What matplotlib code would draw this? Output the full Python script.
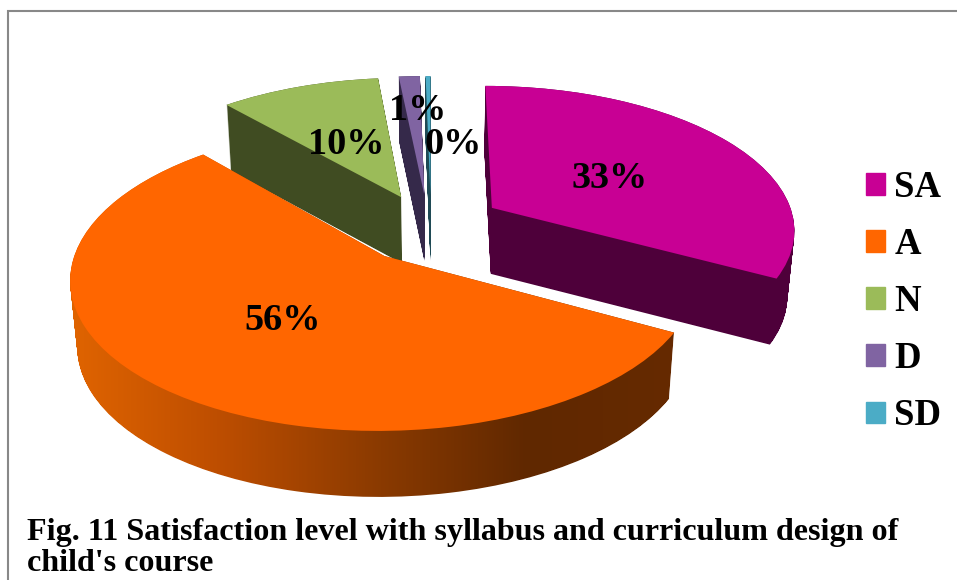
import numpy as np
import matplotlib
matplotlib.use("Agg")
import matplotlib.pyplot as plt
from matplotlib import transforms as mtransforms
from matplotlib.colors import LinearSegmentedColormap
from matplotlib.patches import Patch, PathPatch
from matplotlib.path import Path

categories = ["SA", "A", "N", "D", "SD"]
shares = [32.9, 55.6, 9.9, 1.3, 0.3]
top_colors = ["#C80094", "#FF6600", "#9BBB59", "#8064A2", "#4BACC6"]
side_colors = ["#4E003A", "#662A00", "#404C22", "#35294A", "#1F4A55"]
label_spots = [(610, 179), (283, 320), (346, 144), (418, 111), (453, 145)]
title = "Fig. 11 Satisfaction level with syllabus and curriculum design of\nchild's course"

# view of the tilted pie, in output pixels
CX, CY = 428, 225
SCALE_X, SCALE_Y, TILT = 303, 143, 0.14
DEPTH = 66
# small per-slice shifts on top of the explode
nudges = {"SA": (10, -2), "A": (-3, 7), "N": (-2, -1), "D": (0, -1), "SD": (3, -1)}


class TiltView(mtransforms.Transform):
    input_dims = 2
    output_dims = 2

    def __init__(self, layer=0.0, nudge=(0, 0)):
        super().__init__()
        self.layer = layer
        self.nudge = nudge

    def transform_non_affine(self, xy):
        x, y = np.asarray(xy).T
        w = 1 + TILT * y
        shrink = 1 - 0.02 * self.layer / DEPTH
        return np.column_stack((CX + self.nudge[0] + SCALE_X * shrink * x / w,
                                CY + self.nudge[1] - SCALE_Y * y / w + self.layer))


plt.rcParams["font.family"] = ["Liberation Serif", "DejaVu Serif"]
fig = plt.figure(figsize=(9.57, 5.8), dpi=100)
ax = fig.add_axes([0, 0, 1, 1])

wedges, _ = ax.pie(shares, colors=top_colors, startangle=90, counterclock=False,
                   explode=[0.21] * len(shares), wedgeprops={"linewidth": 0})
ax.set_aspect("auto")

draw_order = {"SD": 0, "D": 1, "N": 2, "SA": 3, "A": 4}
for wedge, name, side in zip(wedges, categories, side_colors):
    z = 2 + 2 * draw_order[name]
    base = wedge.get_path()
    layers = [TiltView(d, nudges[name]).transform_path_non_affine(base) for d in np.arange(0, DEPTH + 1)]
    wall = Path.make_compound_path(*layers)
    if name == "A":
        # the front wall of the big slice fades from left to right
        shade = LinearSegmentedColormap.from_list(
            "wall", [(0, "#E06400"), (0.24, "#BE4E00"), (0.51, "#8A3A00"), (0.75, "#602800"), (1, "#662A00")])
        im = ax.imshow(np.linspace(0, 1, 256)[None, :], cmap=shade, extent=(70, 680, 510, 150),
                       aspect="auto", zorder=z)
        im.set_clip_path(wall, ax.transData)
    else:
        ax.add_patch(PathPatch(wall, facecolor=side, edgecolor="none", transform=ax.transData, zorder=z))
    wedge.set_transform(TiltView(0, nudges[name]) + ax.transData)
    wedge.set_zorder(z + 1)

for share, (x, y) in zip(shares, label_spots):
    ax.text(x, y, f"{share:.0f}%", ha="center", va="center", fontsize=27.5, fontweight="bold",
            color="black", zorder=20)

ax.legend(handles=[Patch(color=c, label=n) for c, n in zip(top_colors, categories)],
          loc="upper left", bbox_to_anchor=(866 / 957, 1 - 170 / 580), frameon=False,
          prop={"family": "Liberation Serif", "weight": "bold", "size": 26.5},
          handlelength=0.52, handleheight=0.52, handletextpad=0.25, labelspacing=0.6,
          borderaxespad=0, borderpad=0)

ax.plot([8, 8, 957], [580, 11, 11], color="#888888", lw=1.5, solid_joinstyle="miter", zorder=1)
ax.text(27, 548, title, ha="left", va="center", fontsize=23.1, fontweight="bold",
        linespacing=1.13, zorder=20)

ax.set_xlim(0, 957)
ax.set_ylim(580, 0)
ax.axis("off")
fig.savefig("out.png", dpi=100)
